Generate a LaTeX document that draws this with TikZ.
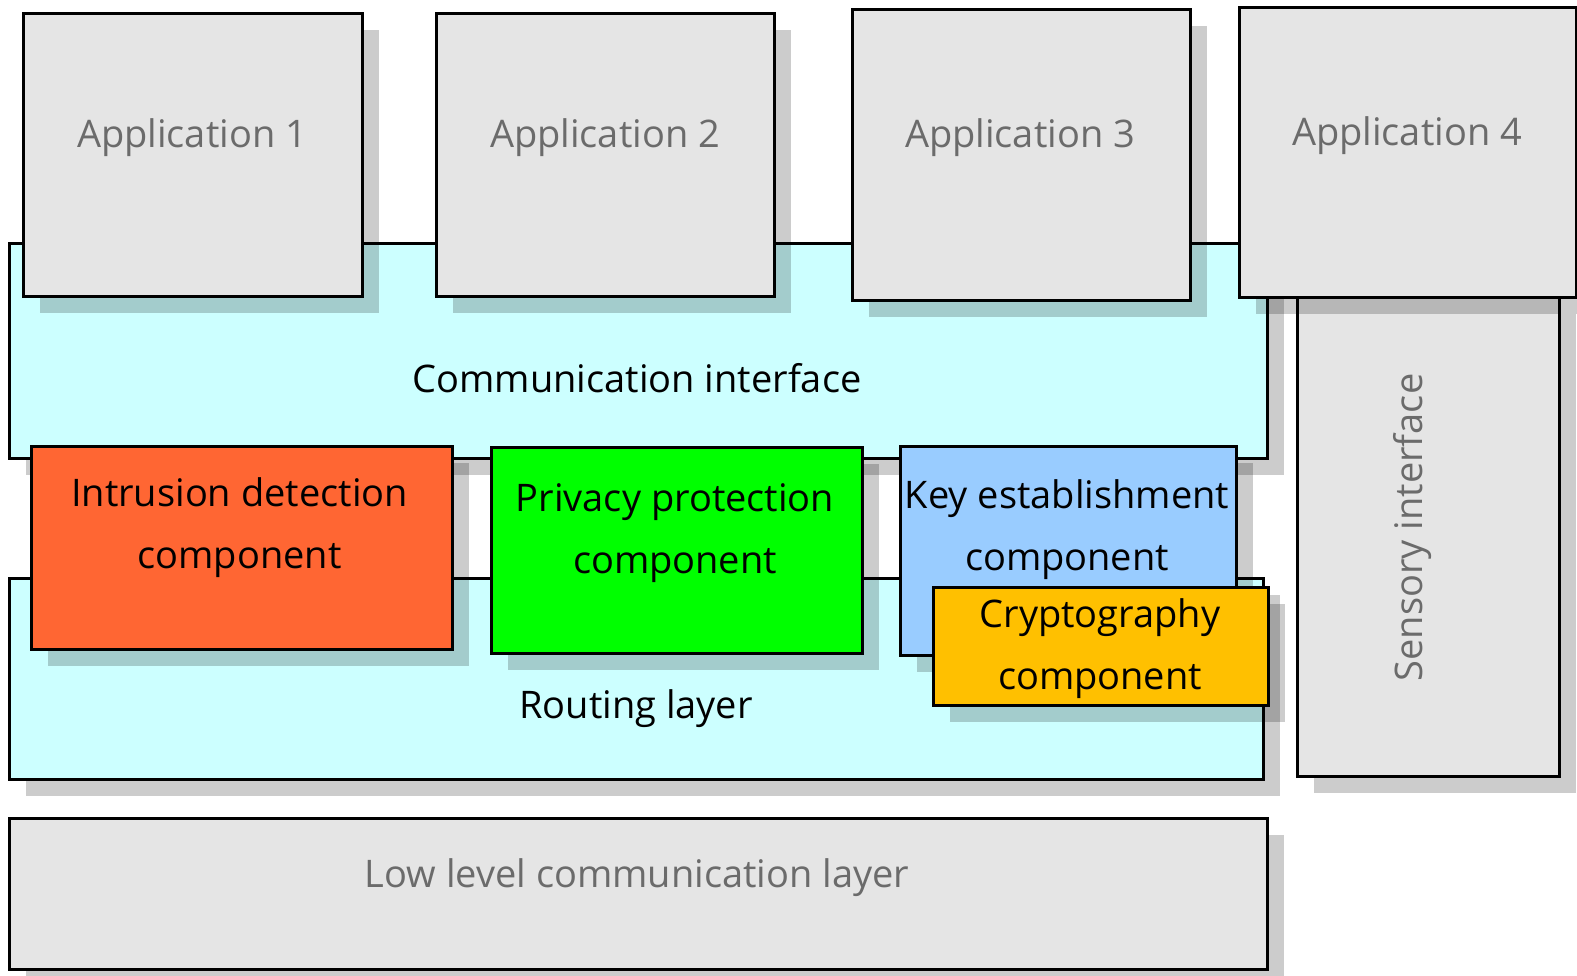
\documentclass[tikz,border=0pt]{standalone}
\usepackage{fontspec}
\setmainfont{Open Sans}
\usepackage{tikz}
\usetikzlibrary{shadows}
\definecolor{boxgrey}{HTML}{E5E5E5}
\definecolor{layercyan}{HTML}{CCFFFF}
\definecolor{idsred}{HTML}{FF6633}
\definecolor{ppgreen}{HTML}{00FF00}
\definecolor{keyblue}{HTML}{99CCFF}
\definecolor{cryptoyellow}{HTML}{FFC000}
\definecolor{greytext}{HTML}{6B6B6B}
\tikzstyle{every node}+=[inner sep=0pt]
\tikzstyle{block} = [rectangle, draw, line width=1.5pt, drop shadow={shadow xshift=8.5pt, shadow yshift=-8.5pt, opacity=0.2, fill=black}]
\tikzstyle{greyblock} = [block, fill=boxgrey]
\tikzstyle{layerblock} = [block, fill=layercyan]
\tikzstyle{boxtext} = [font=\fontsize{19pt}{31pt}\selectfont, anchor=base]
\tikzstyle{greyboxtext} = [boxtext, text=greytext]
\tikzstyle{comptext} = [boxtext, anchor=center, align=center]

\begin{document}
\begin{tikzpicture}[x=0.5pt, y=-0.5pt]
            \useasboundingbox (0,0) rectangle (1577,975);
            % Layers
            \node [layerblock, minimum width=629pt, minimum height=107.5pt] (comm) at (638,350.5) {};
            \node [boxtext] (commtxt) at (637,392) {Communication interface};
            \node [layerblock, minimum width=627pt, minimum height=100.5pt] (routing) at (636,678.5) {};
            \node [boxtext] (routingtxt) at (636,718) {Routing layer};
            \node [greyblock, minimum width=629pt, minimum height=75.5pt] (lowlevel) at (638,893.5) {};
            \node [greyboxtext] (lowleveltxt) at (637,887) {Low level communication layer};
            \node [greyblock, minimum width=131pt, minimum height=239.5pt] (sensory) at (1428,536.5) {};
            \node [greyboxtext, rotate=90] (sensorytxt) at (1422,527.5) {Sensory interface};
            % Applications
            \node [greyblock, minimum width=169.5pt, minimum height=141.5pt] (app1) at (192.5,154.5) {};
            \node [greyboxtext] (app1txt) at (192,147) {Application 1};
            \node [greyblock, minimum width=169pt, minimum height=141.5pt] (app2) at (605,154.5) {};
            \node [greyboxtext] (app2txt) at (605,147) {Application 2};
            \node [greyblock, minimum width=169pt, minimum height=145.5pt] (app3) at (1021,154.5) {};
            \node [greyboxtext] (app3txt) at (1020,147) {Application 3};
            \node [greyblock, minimum width=168.5pt, minimum height=145pt] (app4) at (1407.5,152) {};
            \node [greyboxtext] (app4txt) at (1407,145) {Application 4};
            % Components
            \node [block, fill=idsred, minimum width=210.5pt, minimum height=101.5pt] (ids) at (241.5,547.5) {};
            \node [comptext] (idstxt) at (239.5,527.5) {Intrusion detection\\component};
            \node [block, fill=ppgreen, minimum width=185.5pt, minimum height=103pt] (privacy) at (676.5,550) {};
            \node [comptext] (privacytxt) at (675,533) {Privacy protection\\component};
            \node [block, fill=keyblue, minimum width=168pt, minimum height=104.5pt] (keyest) at (1068,550.5) {};
            \node [comptext] (keyesttxt) at (1067,530) {Key establishment\\component};
            \node [block, fill=cryptoyellow, minimum width=167.5pt, minimum height=59pt] (crypto) at (1100.5,646) {};
            \node [comptext] (cryptotxt) at (1100,648.5) {Cryptography\\component};
          \end{tikzpicture}
\end{document}
